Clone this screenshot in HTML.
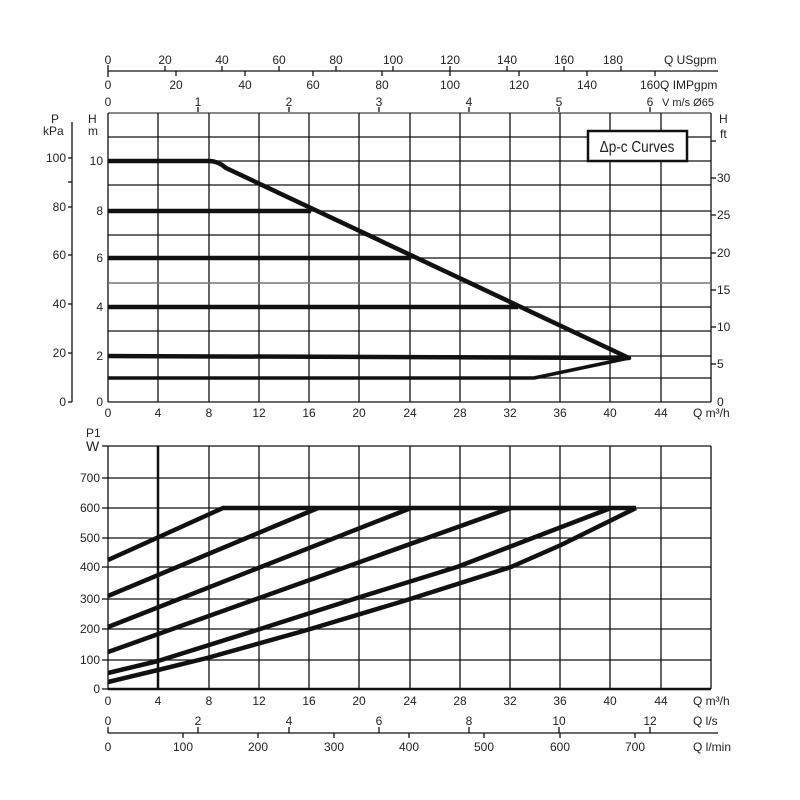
<!DOCTYPE html>
<html><head><meta charset="utf-8"><style>
html,body{margin:0;padding:0;background:#fff;}
svg{display:block;font-family:"Liberation Sans",sans-serif;}
text{fill:#222;font-size:12px;}
</style></head><body>
<svg width="800" height="800" viewBox="0 0 800 800" xmlns="http://www.w3.org/2000/svg">
<!-- top axes -->
<g stroke="#111" stroke-width="1.3">
<line x1="108" y1="71" x2="718" y2="71"/>
<line x1="108" y1="71" x2="108" y2="65"/><line x1="165" y1="71" x2="165" y2="66"/><line x1="222" y1="71" x2="222" y2="66"/><line x1="279" y1="71" x2="279" y2="66"/><line x1="336" y1="71" x2="336" y2="66"/><line x1="393" y1="71" x2="393" y2="66"/><line x1="450" y1="71" x2="450" y2="66"/><line x1="507" y1="71" x2="507" y2="66"/><line x1="564" y1="71" x2="564" y2="66"/><line x1="621" y1="71" x2="621" y2="66"/>
<line x1="108" y1="71" x2="108" y2="77"/><line x1="176" y1="71" x2="176" y2="76"/><line x1="245" y1="71" x2="245" y2="76"/><line x1="313" y1="71" x2="313" y2="76"/><line x1="382" y1="71" x2="382" y2="76"/><line x1="450" y1="71" x2="450" y2="76"/><line x1="519" y1="71" x2="519" y2="76"/><line x1="587" y1="71" x2="587" y2="76"/><line x1="655" y1="71" x2="655" y2="76"/>
<line x1="198" y1="113" x2="198" y2="107"/><line x1="289" y1="113" x2="289" y2="107"/><line x1="379" y1="113" x2="379" y2="107"/><line x1="469" y1="113" x2="469" y2="107"/><line x1="559" y1="113" x2="559" y2="107"/><line x1="650" y1="113" x2="650" y2="107"/>
</g>
<g text-anchor="middle">
<text x="108" y="64">0</text><text x="165" y="64">20</text><text x="222" y="64">40</text><text x="279" y="64">60</text><text x="336" y="64">80</text><text x="393" y="64">100</text><text x="450" y="64">120</text><text x="507" y="64">140</text><text x="564" y="64">160</text><text x="613" y="64">180</text>
<text x="108" y="89">0</text><text x="176" y="89">20</text><text x="245" y="89">40</text><text x="313" y="89">60</text><text x="382" y="89">80</text><text x="450" y="89">100</text><text x="519" y="89">120</text><text x="587" y="89">140</text>
<text x="108" y="106">0</text><text x="198" y="106">1</text><text x="289" y="106">2</text><text x="379" y="106">3</text><text x="469" y="106">4</text><text x="559" y="106">5</text><text x="650" y="106">6</text>
</g>
<text x="664" y="64">Q USgpm</text>
<text x="640" y="89">160Q IMPgpm</text>
<text x="662" y="106" style="font-size:11px">V m/s Ø65</text>

<!-- top chart grid -->
<line x1="108" y1="113" x2="711" y2="113" stroke="#888" stroke-width="2"/>
<g stroke="#111" stroke-width="1.3">
<line x1="108" y1="137" x2="711" y2="137"/><line x1="108" y1="161" x2="711" y2="161"/><line x1="108" y1="185" x2="711" y2="185"/><line x1="108" y1="211" x2="711" y2="211"/><line x1="108" y1="235" x2="711" y2="235"/><line x1="108" y1="258" x2="711" y2="258"/><line x1="108" y1="307" x2="711" y2="307"/><line x1="108" y1="331" x2="711" y2="331"/><line x1="108" y1="356" x2="711" y2="356"/><line x1="108" y1="378" x2="711" y2="378"/><line x1="108" y1="402" x2="711" y2="402"/>
<line x1="108" y1="113" x2="108" y2="402"/><line x1="158" y1="113" x2="158" y2="402"/><line x1="209" y1="113" x2="209" y2="402"/><line x1="259" y1="113" x2="259" y2="402"/><line x1="309" y1="113" x2="309" y2="402"/><line x1="359" y1="113" x2="359" y2="402"/><line x1="410" y1="113" x2="410" y2="402"/><line x1="460" y1="113" x2="460" y2="402"/><line x1="510" y1="113" x2="510" y2="402"/><line x1="560" y1="113" x2="560" y2="402"/><line x1="610" y1="113" x2="610" y2="402"/><line x1="661" y1="113" x2="661" y2="402"/><line x1="711" y1="113" x2="711" y2="402"/>
</g>
<line x1="108" y1="283" x2="711" y2="283" stroke="#777" stroke-width="1.5"/>
<!-- left kPa axis -->
<g stroke="#111" stroke-width="1.3">
<line x1="72" y1="122" x2="72" y2="402"/><line x1="68" y1="402" x2="72" y2="402"/>
<line x1="68" y1="158" x2="72" y2="158"/><line x1="68" y1="182" x2="72" y2="182"/><line x1="68" y1="207" x2="72" y2="207"/><line x1="68" y1="255" x2="72" y2="255"/><line x1="68" y1="304" x2="72" y2="304"/><line x1="68" y1="353" x2="72" y2="353"/>
<line x1="711" y1="141" x2="716" y2="141"/><line x1="711" y1="178" x2="716" y2="178"/><line x1="711" y1="215" x2="716" y2="215"/><line x1="711" y1="253" x2="716" y2="253"/><line x1="711" y1="290" x2="716" y2="290"/><line x1="711" y1="327" x2="716" y2="327"/><line x1="711" y1="364" x2="716" y2="364"/>
</g>
<g text-anchor="end">
<text x="66" y="162">100</text><text x="66" y="211">80</text><text x="66" y="259">60</text><text x="66" y="308">40</text><text x="66" y="357">20</text><text x="66" y="406">0</text>
<text x="103" y="165">10</text><text x="103" y="215">8</text><text x="103" y="262">6</text><text x="103" y="311">4</text><text x="103" y="360">2</text><text x="103" y="406">0</text>
</g>
<text x="51" y="123">P</text><text x="43" y="135">kPa</text>
<text x="88" y="123">H</text><text x="88" y="135">m</text>
<text x="719" y="123">H</text><text x="720" y="138">ft</text>
<g>
<text x="717" y="182">30</text><text x="717" y="219">25</text><text x="717" y="257">20</text><text x="717" y="294">15</text><text x="717" y="331">10</text><text x="717" y="368">5</text><text x="717" y="406">0</text>
</g>
<g text-anchor="middle">
<text x="108" y="417">0</text><text x="158" y="417">4</text><text x="209" y="417">8</text><text x="259" y="417">12</text><text x="309" y="417">16</text><text x="359" y="417">20</text><text x="410" y="417">24</text><text x="460" y="417">28</text><text x="510" y="417">32</text><text x="560" y="417">36</text><text x="610" y="417">40</text><text x="661" y="417">44</text>
</g>
<text x="693" y="417">Q m³/h</text>
<!-- legend box -->
<rect x="588" y="131" width="99" height="30" fill="#fff" stroke="#111" stroke-width="2.5"/>
<text x="637" y="152" text-anchor="middle" style="font-size:16px" transform="translate(637 0) scale(0.85 1) translate(-637 0)">Δp-c Curves</text>
<!-- top curves -->
<g fill="none" stroke="#111" stroke-width="4.5" stroke-linejoin="round">
<path d="M108 161 L209 161 Q218 161 226 168 L629 358 L108 356"/>
<path d="M108 211 L311 211"/>
<path d="M108 258 L411 258"/>
<path d="M108 307 L518 307"/>
<path d="M108 378 L534 378 L629 358" stroke-width="3.5"/>
</g>

<!-- bottom chart -->
<g stroke="#111" stroke-width="1.3">
<line x1="108" y1="446" x2="711" y2="446"/><line x1="108" y1="478" x2="711" y2="478"/><line x1="108" y1="508" x2="711" y2="508"/><line x1="108" y1="538" x2="711" y2="538"/><line x1="108" y1="567" x2="711" y2="567"/><line x1="108" y1="599" x2="711" y2="599"/><line x1="108" y1="629" x2="711" y2="629"/><line x1="108" y1="660" x2="711" y2="660"/>
<line x1="108" y1="446" x2="108" y2="689"/><line x1="209" y1="446" x2="209" y2="689"/><line x1="259" y1="446" x2="259" y2="689"/><line x1="309" y1="446" x2="309" y2="689"/><line x1="359" y1="446" x2="359" y2="689"/><line x1="410" y1="446" x2="410" y2="689"/><line x1="460" y1="446" x2="460" y2="689"/><line x1="510" y1="446" x2="510" y2="689"/><line x1="560" y1="446" x2="560" y2="689"/><line x1="610" y1="446" x2="610" y2="689"/><line x1="661" y1="446" x2="661" y2="689"/><line x1="711" y1="446" x2="711" y2="689"/>
<line x1="102" y1="446" x2="108" y2="446"/><line x1="102" y1="478" x2="108" y2="478"/><line x1="102" y1="508" x2="108" y2="508"/><line x1="102" y1="538" x2="108" y2="538"/><line x1="102" y1="567" x2="108" y2="567"/><line x1="102" y1="599" x2="108" y2="599"/><line x1="102" y1="629" x2="108" y2="629"/><line x1="102" y1="660" x2="108" y2="660"/><line x1="102" y1="689" x2="108" y2="689"/>
</g>
<line x1="158" y1="446" x2="158" y2="689" stroke="#111" stroke-width="2.5"/>
<line x1="108" y1="689" x2="711" y2="689" stroke="#111" stroke-width="2.5"/>
<text x="86" y="437">P1</text><text x="86" y="451" style="font-size:14px">W</text>
<g text-anchor="end">
<text x="100" y="482">700</text><text x="100" y="512">600</text><text x="100" y="542">500</text><text x="100" y="571">400</text><text x="100" y="603">300</text><text x="100" y="633">200</text><text x="100" y="664">100</text><text x="100" y="693">0</text>
</g>
<g text-anchor="middle">
<text x="108" y="705">0</text><text x="158" y="705">4</text><text x="209" y="705">8</text><text x="259" y="705">12</text><text x="309" y="705">16</text><text x="359" y="705">20</text><text x="410" y="705">24</text><text x="460" y="705">28</text><text x="510" y="705">32</text><text x="560" y="705">36</text><text x="610" y="705">40</text><text x="661" y="705">44</text>
</g>
<text x="693" y="705">Q m³/h</text>
<g fill="none" stroke="#111" stroke-width="4.5" stroke-linejoin="round">
<path d="M108 560 L223 508 L636 508"/>
<path d="M108 596 L318 508"/>
<path d="M108 627 L411 508"/>
<path d="M108 652 L511 508"/>
<path d="M108 673 L158 661 L257 630 L357 598 L457 567 L611 508"/>
<path d="M108 682 L158 670 L207 658 L307 630 L407 600 L511 567 L561 545 L636 508"/>
</g>
<!-- bottom axes -->
<g stroke="#111" stroke-width="1.3">
<line x1="108" y1="733" x2="718" y2="733"/>
<line x1="108" y1="733" x2="108" y2="727"/><line x1="198" y1="733" x2="198" y2="727"/><line x1="289" y1="733" x2="289" y2="727"/><line x1="379" y1="733" x2="379" y2="727"/><line x1="469" y1="733" x2="469" y2="727"/><line x1="559" y1="733" x2="559" y2="727"/><line x1="650" y1="733" x2="650" y2="727"/>
<line x1="183" y1="733" x2="183" y2="738"/><line x1="258" y1="733" x2="258" y2="738"/><line x1="334" y1="733" x2="334" y2="738"/><line x1="409" y1="733" x2="409" y2="738"/><line x1="484" y1="733" x2="484" y2="738"/><line x1="560" y1="733" x2="560" y2="738"/><line x1="635" y1="733" x2="635" y2="738"/>
</g>
<g text-anchor="middle">
<text x="108" y="725">0</text><text x="198" y="725">2</text><text x="289" y="725">4</text><text x="379" y="725">6</text><text x="469" y="725">8</text><text x="559" y="725">10</text><text x="650" y="725">12</text>
<text x="108" y="751">0</text><text x="183" y="751">100</text><text x="258" y="751">200</text><text x="334" y="751">300</text><text x="409" y="751">400</text><text x="484" y="751">500</text><text x="560" y="751">600</text><text x="635" y="751">700</text>
</g>
<text x="693" y="725">Q l/s</text>
<text x="693" y="751">Q l/min</text>
</svg>
</body></html>
